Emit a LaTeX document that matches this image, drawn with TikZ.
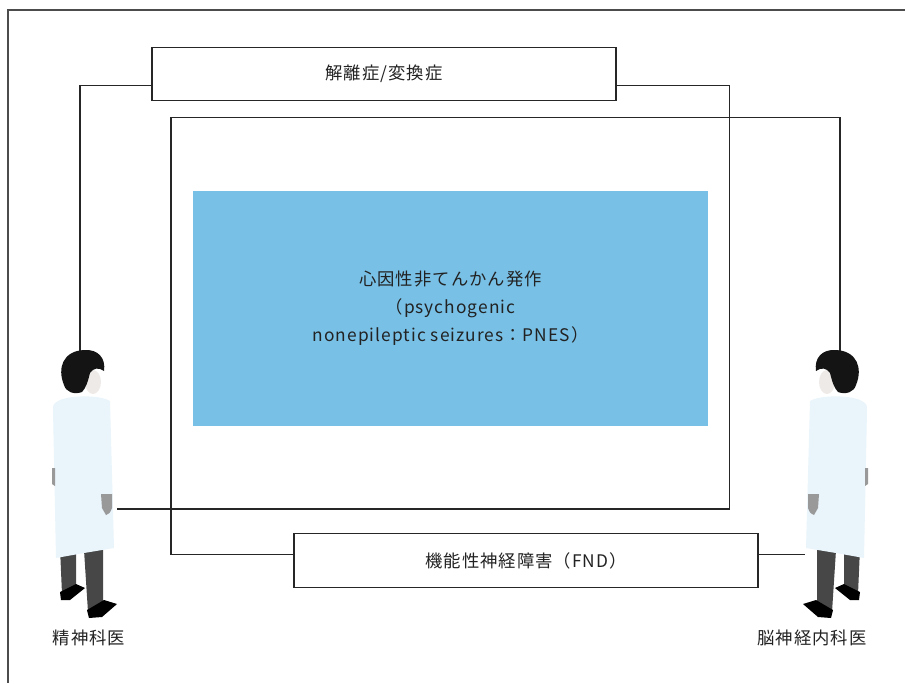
\documentclass[tikz,border=0pt]{standalone}
\usepackage{fontspec}
\setmainfont{Noto Sans CJK JP}[LetterSpace=6]
\usepackage{tikz}
\usetikzlibrary{positioning}
\definecolor{pnesblue}{RGB}{120,192,230}
\definecolor{coatblue}{RGB}{233,244,251}
\definecolor{skintone}{RGB}{238,234,232}
\definecolor{txtgray}{RGB}{34,34,34}
\tikzset{
	box/.style={draw=black!85, line width=0.8pt, fill=white, inner sep=0pt, text=txtgray, font=\fontsize{13pt}{21pt}\selectfont},
	link/.style={black!85, line width=0.8pt},
	frame/.style={black!70, line width=1.1pt},
	drcoat/.style={fill=coatblue},
	drhair/.style={fill=black!92},
	drskin/.style={fill=skintone},
	drhand/.style={fill=black!40},
	drleg/.style={fill=black!72},
	drshoe/.style={fill=black},
}
% doctor standing, facing right; head top at (80,352)
\newcommand{\medic}{
	\fill[drskin] (93,382) ellipse (8 and 12);
	\fill[drhair] (64,385) .. controls (57,368) and (63,351) .. (84,350) .. controls (98,349) and (106,358) .. (104,371) .. controls (99,367) and (93,368) .. (90,373) .. controls (88,381) and (86,388) .. (82,392) .. controls (74,395) and (66,392) .. (64,385) -- cycle;
	%legs and shoes
	\fill[drleg] (60,548) -- (76,548) -- (76,587) -- (62,594) -- cycle;
	\fill[drleg] (84,550) -- (103,550) -- (103,606) -- (88,612) -- cycle;
	\fill[drshoe] (60,592) -- (76,584) -- (85,588) -- (70,600) -- (61,600) -- cycle;
	\fill[drshoe] (87,610) -- (104,600) -- (117,604) -- (102,617) -- (89,618) -- cycle;
	%coat
	\fill[drcoat] (60,400) .. controls (72,395) and (100,395) .. (110,401) -- (114,548) -- (84,553) -- (56,558) -- (53,410) .. controls (53,404) .. (60,400) -- cycle;
	\fill[drhand] (52,468) -- (55,468) -- (55,486) -- (52,484) -- cycle;
	\fill[drhand] (101,494) -- (112,494) -- (112,508) .. controls (110,513) .. (106,515) -- (102,508) -- cycle;
}

\begin{document}
\begin{tikzpicture}[x=0.75pt, y=-0.75pt]
	\useasboundingbox (0,0) rectangle (905,683);
	\draw[frame] (905,10) -- (8,10) -- (8,683);

	\node[box, minimum width=348pt, minimum height=40pt] (dis) at (384,74) {解離症/変換症};
	\node[box, minimum width=348pt, minimum height=40pt] (fnd) at (526,560.5) {機能性神経障害（FND）};
	\node[box, draw=none, fill=pnesblue, align=center, minimum width=386.25pt, minimum height=176.25pt] (pnes) at (450.5,308.5) {心因性非てんかん発作\\（psychogenic\\nonepileptic seizures：PNES）};

	\coordinate (psyhead) at (80,352);
	\coordinate (psyhand) at (117,509);
	\coordinate (neuhead) at (840,352);
	\coordinate (neuhand) at (805,554.5);
	\coordinate (dcorner) at (729.5,509);
	\coordinate (fcorner) at (171,117.5);

	%connectors
	\draw[link] ([yshift=-8.4pt]dis.west) -| (psyhead);
	\draw[link] ([yshift=-8.4pt]dis.east) -| (dcorner) -- (psyhand);
	\draw[link] ([yshift=4.5pt]fnd.west) -| (fcorner) -| (neuhead);
	\draw[link] ([yshift=4.5pt]fnd.east) -- (neuhand);

	%doctors
	\medic
	\begin{scope}[shift={(920,0)}, xscale=-1]
		\medic
	\end{scope}
	\node[text=txtgray, font=\fontsize{13pt}{15pt}\selectfont] (psy) at (89,638) {精神科医};
	\node[text=txtgray, font=\fontsize{13pt}{15pt}\selectfont] (neu) at (812,638) {脳神経内科医};
\end{tikzpicture}
\end{document}
